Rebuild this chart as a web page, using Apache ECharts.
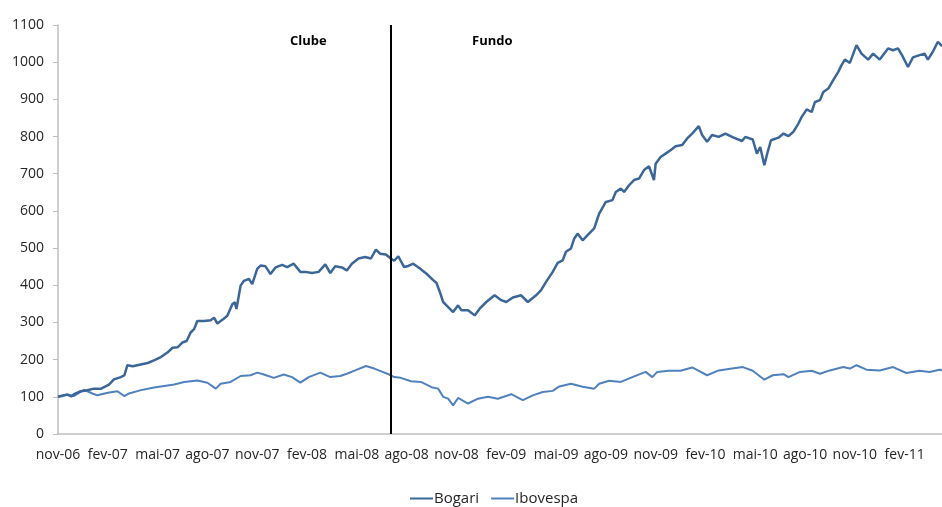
<!DOCTYPE html>
<html>
<head>
<meta charset="utf-8">
<script src="https://cdn.jsdelivr.net/npm/echarts@6/dist/echarts.min.js"></script>
<style>
html,body{margin:0;padding:0;background:#fff;}
#chart{width:942px;height:507px;}
</style>
</head>
<body>
<div id="chart"></div>
<script>
// x values are months elapsed since nov-06
const tickLabels = ["nov-06","fev-07","mai-07","ago-07","nov-07","fev-08","mai-08","ago-08","nov-08","fev-09","mai-09","ago-09","nov-09","fev-10","mai-10","ago-10","nov-10","fev-11"];
const seriesNames = ["Bogari","Ibovespa"];
const dividerMonth = 20.05;
const annotations = ["Clube","Fundo"];

const bogariMonths = [0,0.3,0.56,0.8,1.0,1.37,1.7,2.17,2.6,3.07,3.37,3.78,4.0,4.1,4.18,4.5,4.98,5.4,5.78,6.2,6.59,6.9,7.2,7.49,7.75,7.99,8.2,8.39,8.8,9.2,9.4,9.6,9.9,10.2,10.5,10.65,10.75,11.0,11.2,11.5,11.7,12.0,12.2,12.5,12.8,13.1,13.5,
13.8,14.2,14.6,14.9,15.3,15.7,16.1,16.4,16.7,17.1,17.4,17.7,18.1,18.5,18.85,19.15,19.4,19.75,20.05,20.25,20.5,20.85,21.1,21.4,21.8,22.2,22.6,22.8,23.0,23.2,23.4,23.8,24.1,24.3,24.7,25.1,25.4,25.8,26.3,26.7,
27.0,27.4,27.9,28.3,28.8,29.1,29.4,29.8,30.1,30.4,30.6,30.9,31.1,31.3,31.6,31.9,32.3,32.6,33.0,33.4,33.6,33.9,34.1,34.4,34.7,35.0,35.3,35.6,35.9,36.0,36.3,36.6,36.9,37.2,37.6,37.9,38.2,38.6,38.8,39.1,39.4,39.8,
40.2,40.7,41.2,41.4,41.85,42.1,42.3,42.55,42.75,42.95,43.4,43.7,44.0,44.3,44.6,44.8,45.1,45.4,45.6,45.9,46.1,46.4,46.7,47.0,47.2,47.4,47.7,48.1,48.4,48.8,49.1,49.5,50.0,50.3,50.6,50.9,51.2,51.5,51.9,52.2,52.4,52.7,53.0,53.25];
const bogariValues = [100,103,106,101,108,115,117,122,122,133,147,153,158,160,185,182,187,191,198,207,219,232,233,246,250,273,282,304,304,306,313,297,307,318,349,354,336,399,412,417,403,444,453,451,430,448,455,
449,458,436,436,433,436,456,433,451,448,440,458,472,476,472,496,485,483,472,466,478,449,452,458,445,431,414,406,382,355,346,328,346,333,333,319,337,355,373,360,
355,367,373,355,373,387,409,436,460,467,490,499,526,539,521,535,553,593,624,629,651,660,651,669,683,687,710,720,683,727,745,754,763,774,777,795,808,828,804,786,804,799,
808,797,788,799,792,754,772,723,759,790,797,808,801,813,835,853,873,866,893,898,920,929,952,974,992,1007,998,1046,1023,1007,1023,1007,1037,1032,1037,1014,987,1013,1019,1023,1007,1028,1055,1043];

const iboveMonths = [0,0.3,0.56,0.95,1.57,2.07,2.37,3.0,3.58,4.0,4.28,5.0,5.79,6.4,7.0,7.6,8.4,9.0,9.5,9.8,10.4,11.0,11.6,12.0,12.4,13.0,13.6,14.1,14.6,15.1,15.8,16.4,17.0,17.4,17.9,18.55,19.05,19.55,19.95,20.25,20.65,21.26,21.86,22.5,22.9,23.2,23.5,23.8,24.1,24.7,25.3,25.9,26.5,
27.3,28.0,28.6,29.2,29.8,30.2,30.9,31.6,32.3,32.6,33.2,33.9,34.6,35.4,35.8,36.1,36.8,37.5,38.2,38.6,39.1,39.8,40.6,41.25,41.85,42.55,43.05,43.7,44.0,44.7,45.4,45.9,46.5,
47.3,47.7,48.1,48.7,49.5,50.3,51.1,51.9,52.5,53.1,53.25];
const iboveValues = [100,104,106,102,119,109,104,111,115,102,109,118,125,129,133,140,144,138,122,135,140,156,158,165,160,151,160,153,138,153,165,153,156,162,171,183,176,167,160,153,151,142,140,126,122,100,95,77,97,82,95,100,95,
107,91,104,113,116,128,135,127,122,135,143,140,153,167,153,167,170,170,179,170,158,171,176,180,170,146,158,161,153,167,170,162,171,
180,176,185,173,171,180,164,170,167,173,172];

function pairs(xs, ys){ return xs.map((x,i)=>[x, ys[i]]); }

const chart = echarts.init(document.getElementById('chart'), null, {renderer:'canvas'});
const FONT = '"Open Sans", sans-serif';
chart.setOption({
  animation:false,
  backgroundColor:'#ffffff',
  grid:{left:58, right:0, top:25, bottom:73, containLabel:false},
  xAxis:{
    type:'value', min:0, max:53.25, interval:3,
    axisLine:{show:true, lineStyle:{color:'#BFBFBF', width:1.5}},
    axisTick:{show:false},
    splitLine:{show:false},
    axisLabel:{
      show:true, margin:14, color:'#262626', fontSize:14, fontFamily:FONT,
      showMaxLabel:false,
      formatter:function(v){ return (v % 3 === 0 && tickLabels[v/3] !== undefined) ? tickLabels[v/3] : ''; }
    }
  },
  yAxis:{
    type:'value', min:0, max:1100, interval:100,
    axisLine:{show:true, lineStyle:{color:'#BFBFBF', width:1.5}},
    axisTick:{show:true, length:5, lineStyle:{color:'#BFBFBF'}},
    splitLine:{show:false},
    axisLabel:{margin:14, color:'#262626', fontSize:14, fontFamily:FONT, formatter:function(v){ return String(v); }}
  },
  legend:{
    data:seriesNames, left:405, top:486, icon:'rect', itemWidth:23, itemHeight:2, itemGap:12,
    textStyle:{color:'#262626', fontSize:15, fontFamily:FONT, padding:[0,0,0,-4]}
  },
  graphic:[
    {type:'text', left:290, top:35, style:{text:annotations[0], font:'bold 13px "Open Sans", sans-serif', fill:'#000'}},
    {type:'text', left:472, top:35, style:{text:annotations[1], font:'bold 13px "Open Sans", sans-serif', fill:'#000'}}
  ],
  series:[
    {
      name:seriesNames[0], type:'line', showSymbol:false, symbol:'none',
      data:pairs(bogariMonths,bogariValues),
      lineStyle:{color:'#3B6698', width:2.5}, itemStyle:{color:'#3B6698'},
      markLine:{
        silent:true, symbol:'none', label:{show:false},
        lineStyle:{color:'#000', width:2, type:'solid'},
        data:[{xAxis:dividerMonth}]
      },
      z:3
    },
    {
      name:seriesNames[1], type:'line', showSymbol:false, symbol:'none',
      data:pairs(iboveMonths,iboveValues),
      lineStyle:{color:'#4F81BD', width:2}, itemStyle:{color:'#4F81BD'},
      z:2
    }
  ]
});
</script>
</body>
</html>
